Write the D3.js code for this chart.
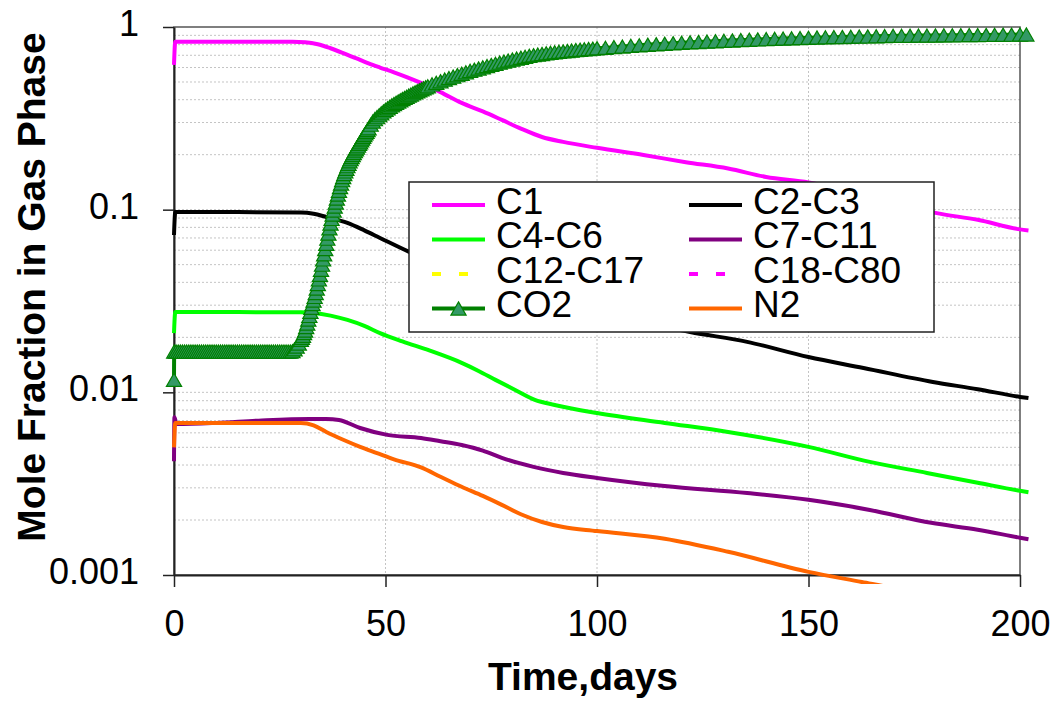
<!DOCTYPE html>
<html>
<head>
<meta charset="utf-8">
<script src="https://cdn.jsdelivr.net/npm/d3@7"></script>
<style>
  body { margin: 0; background: #fff; }
  svg text { font-family: "Liberation Sans", Arial, sans-serif; }
</style>
</head>
<body>
<div id="chart"></div>
<script>
// [day, mole fraction in gas phase]
const c1 = [[0, 0.62], [0.3, 0.83], [15, 0.83], [28, 0.83], [31, 0.825], [34, 0.805], [37, 0.765], [40, 0.72], [43, 0.675],
    [46, 0.632], [48.7, 0.60], [52, 0.565], [55, 0.532], [58.4, 0.494], [63, 0.44], [68, 0.384], [73, 0.345], [77.5, 0.31],
    [82, 0.278], [87, 0.25], [92, 0.235], [100, 0.218], [111, 0.199], [121, 0.182], [131, 0.168], [140, 0.151],
    [150, 0.141], [160, 0.125], [170, 0.11], [180, 0.096], [190, 0.088], [200, 0.078], [202, 0.077]];

const c2c3 = [[0, 0.0727], [0.3, 0.097], [15, 0.097], [30, 0.0965], [33, 0.095], [36, 0.0912], [41, 0.0846], [45, 0.077],
    [48.7, 0.070], [55.6, 0.0587], [60, 0.053], [70, 0.044], [80, 0.036], [90, 0.031], [100, 0.0275], [110, 0.0245],
    [122, 0.0214], [135.5, 0.0189], [150, 0.0156], [163, 0.0136], [179.4, 0.0114], [190, 0.0104], [200, 0.00944], [202, 0.0093]];

const c4c6 = [[0, 0.0211], [0.3, 0.0275], [15, 0.0275], [30, 0.0274], [33, 0.0272], [37, 0.0263], [41, 0.0249], [45, 0.0231],
    [48.7, 0.0211], [54, 0.019], [60.5, 0.0169], [68, 0.0145], [72, 0.0131], [76, 0.0117], [81, 0.0102], [85.3, 0.0091],
    [90, 0.00853], [100, 0.0077], [116, 0.0068], [131, 0.00607], [150, 0.00503], [164.5, 0.00416], [178, 0.00362],
    [190, 0.0032], [200, 0.00289], [202, 0.00284]];

const c7c11 = [[0, 0.0042], [0.1, 0.0073], [0.6, 0.0067], [10, 0.0068], [20, 0.007], [32, 0.00715], [36, 0.00715],
    [39, 0.00706], [44, 0.00638], [50.4, 0.00585], [58.4, 0.00563], [63, 0.0054], [68, 0.00515], [73, 0.0048],
    [77.5, 0.00438], [85, 0.00391], [92, 0.00362], [100, 0.0034], [116, 0.00307], [135.5, 0.00281], [150, 0.00258],
    [164.5, 0.00227], [179, 0.00193], [190, 0.00177], [200, 0.0016], [202, 0.00157]];

// below 0.001 for the whole run, nothing of them is visible
const c12c17 = [];
const c18c80 = [];

const co2 = [[0, 0.0117], [0.05, 0.0167],
    [0.5, 0.0167], [1, 0.0167], [1.5, 0.0167], [2, 0.0167], [2.5, 0.0167], [3, 0.0167], [3.5, 0.0167], [4, 0.0167],
    [4.5, 0.0167], [5, 0.0167], [5.5, 0.0167], [6, 0.0167], [6.5, 0.0167], [7, 0.0167], [7.5, 0.0167], [8, 0.0167],
    [8.5, 0.0167], [9, 0.0167], [9.5, 0.0167], [10, 0.0167], [10.5, 0.0167], [11, 0.0167], [11.5, 0.0167], [12, 0.0167],
    [12.5, 0.0167], [13, 0.0167], [13.5, 0.0167], [14, 0.0167], [14.5, 0.0167], [15, 0.0167], [15.5, 0.0167], [16, 0.0167],
    [16.5, 0.0167], [17, 0.0167], [17.5, 0.0167], [18, 0.0167], [18.5, 0.0167], [19, 0.0167], [19.5, 0.0167], [20, 0.0167],
    [20.5, 0.0167], [21, 0.0167], [21.5, 0.0167], [22, 0.0167], [22.5, 0.0167], [23, 0.0167], [23.5, 0.0167], [24, 0.0167],
    [24.5, 0.0167], [25, 0.0167], [25.5, 0.0167], [26, 0.0167], [26.5, 0.0167], [27, 0.0167], [27.5, 0.0167],
    [28, 0.0168], [28.5, 0.0172], [29, 0.0178], [29.5, 0.0185], [30, 0.0194], [30.25, 0.0199], [30.5, 0.0204],
    [30.75, 0.0211], [31, 0.0218], [31.25, 0.0228], [31.5, 0.0238], [31.75, 0.025], [32, 0.0262], [32.25, 0.0276],
    [32.5, 0.029], [32.75, 0.0304], [33, 0.0318], [33.25, 0.0333], [33.5, 0.035], [33.75, 0.037], [34, 0.0392],
    [34.25, 0.0415], [34.5, 0.044], [34.75, 0.0469], [35, 0.05], [35.25, 0.0534], [35.5, 0.057], [35.75, 0.0609],
    [36, 0.065], [36.25, 0.0694], [36.5, 0.074], [36.75, 0.079], [37, 0.084], [37.25, 0.089], [37.5, 0.094],
    [37.75, 0.099], [38, 0.104], [38.25, 0.1095], [38.5, 0.115], [38.75, 0.121], [39, 0.127], [39.25, 0.133],
    [39.5, 0.139], [39.75, 0.145], [40, 0.151], [40.25, 0.1565], [40.5, 0.162], [40.75, 0.1675], [41, 0.173],
    [41.25, 0.1785], [41.5, 0.184], [41.75, 0.189], [42, 0.194], [42.25, 0.199], [42.5, 0.204], [42.75, 0.209],
    [43, 0.214], [43.25, 0.219], [43.5, 0.224], [43.75, 0.229], [44, 0.234], [44.25, 0.2395], [44.5, 0.245],
    [44.75, 0.2505], [45, 0.256], [45.25, 0.2615], [45.5, 0.267], [45.75, 0.273], [46, 0.279],
    [46.5, 0.292], [47, 0.304], [47.5, 0.313], [48, 0.321], [48.5, 0.329], [49, 0.337], [49.5, 0.345], [50, 0.352],
    [50.5, 0.359], [51, 0.366], [51.5, 0.373], [52, 0.379], [52.5, 0.385], [53, 0.391], [53.5, 0.397], [54, 0.403],
    [54.5, 0.409], [55, 0.415], [55.5, 0.421], [56, 0.427], [56.5, 0.433], [57, 0.439], [57.5, 0.445], [58, 0.45],
    [58.5, 0.456], [59, 0.462], [59.5, 0.467], [60, 0.473], [61, 0.485], [62, 0.495], [63, 0.505], [64, 0.515],
    [65, 0.525], [66, 0.535], [67, 0.545], [68, 0.555], [69, 0.565], [70, 0.575], [71, 0.584], [72, 0.593], [73, 0.602],
    [74, 0.611], [75, 0.62], [76, 0.629], [77, 0.638], [78, 0.647], [79, 0.655], [80, 0.663], [81, 0.671], [82, 0.679],
    [83, 0.687], [84, 0.695], [85, 0.701], [86, 0.707], [87, 0.712], [88, 0.717], [89, 0.722], [90, 0.727], [91, 0.731],
    [92, 0.735], [93, 0.739], [94, 0.743], [95, 0.747], [96, 0.751], [97, 0.754], [98, 0.758], [99, 0.761], [100, 0.765],
    [102, 0.769], [104, 0.776], [106, 0.782], [108, 0.788], [110, 0.794], [112, 0.8], [114, 0.805], [116, 0.81],
    [118, 0.815], [120, 0.82], [122, 0.824], [124, 0.828], [126, 0.832], [128, 0.836], [130, 0.84], [132, 0.844],
    [134, 0.848], [136, 0.852], [138, 0.855], [140, 0.858], [142, 0.861], [144, 0.864], [146, 0.867], [148, 0.87],
    [150, 0.873], [152, 0.876], [154, 0.878], [156, 0.88], [158, 0.882], [160, 0.884], [162, 0.886], [164, 0.888],
    [166, 0.89], [168, 0.892], [170, 0.894], [172, 0.895], [174, 0.896], [176, 0.897], [178, 0.898], [180, 0.899],
    [182, 0.9], [184, 0.901], [186, 0.902], [188, 0.903], [190, 0.904], [192, 0.905], [194, 0.906], [196, 0.907],
    [198, 0.908], [200, 0.909], [201.5, 0.91]];

const n2 = [[0, 0.005], [0.3, 0.0068], [15, 0.0068], [30, 0.0068], [33, 0.0066], [36, 0.00607], [40, 0.0055], [44, 0.00503],
    [48, 0.00465], [52, 0.0043], [58.4, 0.00388], [63, 0.00345], [68, 0.00304], [73, 0.00271], [77.5, 0.00242],
    [82, 0.00215], [87, 0.00195], [92, 0.00183], [100, 0.00174], [116, 0.00158], [131, 0.00134], [150, 0.00104],
    [162.6, 0.000916], [170, 0.00085], [180, 0.00078]];

const seriesNames = ["C1", "C2-C3", "C4-C6", "C7-C11", "C12-C17", "C18-C80", "CO2", "N2"];
const xTicks = [0, 50, 100, 150, 200];
const yTicks = [0.001, 0.01, 0.1, 1];
const yTickLabels = ["0.001", "0.01", "0.1", "1"];


function renderGasPhaseChart(container) {
    const width = 1057;
    const height = 702;
    const margin = { top: 27, right: 37, bottom: 127, left: 174 };

    const series = [
        { data: c1, color: "#ff00ff" },
        { data: c2c3, color: "#000000" },
        { data: c4c6, color: "#00ff00" },
        { data: c7c11, color: "#800080" },
        { data: c12c17, color: "#ffff00", dash: "9,18" },
        { data: c18c80, color: "#ff00ff", dash: "9,18" },
        { data: co2, color: "#008000", marker: true },
        { data: n2, color: "#ff6600" }
    ].map((s, i) => ({ ...s, name: seriesNames[i] }));

    const x = d3.scaleLinear()
        .domain([0, 200])
        .range([margin.left, width - margin.right]);

    const y = d3.scaleLog()
        .domain([0.001, 1])
        .range([height - margin.bottom, margin.top]);

    const svg = d3.select(container).append("svg")
        .attr("width", width)
        .attr("height", height);

    // dotted grid
    svg.append("g")
        .selectAll("line")
        .data(y.ticks().filter(d => d > 0.001 && d < 1))
        .enter()
        .append("line")
        .attr("x1", x(0))
        .attr("x2", x(200))
        .attr("y1", d => y(d))
        .attr("y2", d => y(d))
        .attr("stroke", "#c4c4c4")
        .attr("stroke-dasharray", "2,2");

    svg.append("g")
        .selectAll("line")
        .data(xTicks.slice(1, -1))
        .enter()
        .append("line")
        .attr("x1", d => x(d))
        .attr("x2", d => x(d))
        .attr("y1", y(1))
        .attr("y2", y(0.001))
        .attr("stroke", "#c4c4c4")
        .attr("stroke-dasharray", "2,2");

    svg.append("rect")
        .attr("x", x(0))
        .attr("y", y(1))
        .attr("width", x(200) - x(0))
        .attr("height", y(0.001) - y(1))
        .attr("fill", "none")
        .attr("stroke", "#555")
        .attr("stroke-width", 1.5);

    // axes
    const xAxis = svg.append("g")
        .attr("transform", `translate(0,${y(0.001)})`)
        .call(d3.axisBottom(x).tickValues(xTicks).tickSize(12).tickSizeOuter(0).tickPadding(23));

    const yAxis = svg.append("g")
        .attr("transform", `translate(${x(0)},0)`)
        .call(d3.axisLeft(y).tickValues(yTicks).tickFormat((d, i) => yTickLabels[i])
            .tickSize(11).tickSizeOuter(0).tickPadding(24));

    [xAxis, yAxis].forEach(g => {
        g.select(".domain").attr("stroke", "#222").attr("stroke-width", 2);
        g.selectAll(".tick line").attr("stroke", "#222").attr("stroke-width", 1.5);
        g.selectAll(".tick text")
            .attr("fill", "#000")
            .style("font-size", "36px")
            .style("font-family", "'Liberation Sans', Arial, sans-serif");
    });
    yAxis.selectAll(".tick text").attr("dy", "0.24em");

    // series lines
    svg.append("clipPath")
        .attr("id", "plot-clip")
        .append("rect")
        .attr("x", x(0) - 10)
        .attr("y", y(1) - 10)
        .attr("width", x(200) - x(0) + 20)
        .attr("height", y(0.001) - y(1) + 19);

    const line = d3.line()
        .x(d => x(d[0]))
        .y(d => y(d[1]))
        .curve(d3.curveMonotoneX);

    const triangle = d3.symbol(d3.symbolTriangle, 100);
    const triShift = Math.sqrt(4 * 100 / Math.sqrt(3)) * Math.sqrt(3) / 2 / 6;

    const plot = svg.append("g");

    series.forEach(s => {
        if (!s.data.length) return;
        plot.append("path")
            .datum(s.data)
            .attr("clip-path", "url(#plot-clip)")
            .attr("d", line)
            .attr("fill", "none")
            .attr("stroke", s.color)
            .attr("stroke-width", 4)
            .attr("stroke-linejoin", "round")
            .attr("stroke-dasharray", s.dash || null);

        if (s.marker) {
            plot.append("g")
                .selectAll("path")
                .data(s.data)
                .enter()
                .append("path")
                .attr("d", triangle)
                .attr("transform", d => `translate(${x(d[0])},${y(d[1]) + triShift})`)
                .attr("fill", "#339966")
                .attr("stroke", "#008000")
                .attr("stroke-width", 1.2);
        }
    });

    // legend
    const legend = svg.append("g");
    legend.append("rect")
        .attr("x", 409)
        .attr("y", 182)
        .attr("width", 525)
        .attr("height", 150)
        .attr("fill", "#fff")
        .attr("stroke", "#222")
        .attr("stroke-width", 1.5);

    const lineX = [432, 689];
    const textX = [496, 753];

    series.forEach((s, i) => {
        const col = i % 2;
        const rowY = 205 + Math.floor(i / 2) * 34.5;
        legend.append("line")
            .attr("x1", lineX[col])
            .attr("x2", lineX[col] + 53)
            .attr("y1", rowY)
            .attr("y2", rowY)
            .attr("stroke", s.color)
            .attr("stroke-width", 4)
            .attr("stroke-dasharray", s.dash || null);
        if (s.marker) {
            legend.append("path")
                .attr("d", triangle)
                .attr("transform", `translate(${lineX[col] + 26.5},${rowY + triShift})`)
                .attr("fill", "#339966")
                .attr("stroke", "#008000")
                .attr("stroke-width", 1.2);
        }
        legend.append("text")
            .attr("x", textX[col])
            .attr("y", rowY + 8.5)
            .style("font-size", "37px")
            .text(s.name);
    });

    // axis titles
    svg.append("text")
        .attr("text-anchor", "middle")
        .attr("x", 583)
        .attr("y", 690)
        .style("font-size", "39px")
        .style("font-weight", "bold")
        .text("Time,days");

    svg.append("text")
        .attr("text-anchor", "middle")
        .attr("transform", "rotate(-90)")
        .attr("x", -287)
        .attr("y", 45)
        .style("font-size", "39px")
        .style("font-weight", "bold")
        .text("Mole Fraction in Gas Phase");
}

renderGasPhaseChart(document.getElementById("chart"));
</script>
</body>
</html>
